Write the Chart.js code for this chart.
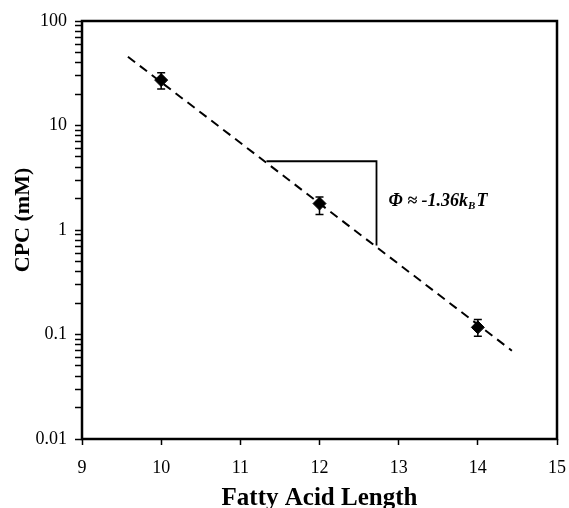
<!DOCTYPE html>
<html>
<head>
<meta charset="utf-8">
<script src="https://cdn.jsdelivr.net/npm/chart.js@4.4.1/dist/chart.umd.min.js"></script>
<style>
  html, body { margin: 0; padding: 0; background: #fff; }
  canvas { display: block; }
</style>
</head>
<body>
<canvas id="chart" width="569" height="508"></canvas>
<script>
// measured points
const chainLength = [10, 12, 14];
const cpc = [27.2, 1.79, 0.117];
const cpcErrUp = [4.7, 0.28, 0.022];
const cpcErrDown = [4.8, 0.38, 0.021];

// dashed fit line
const fitX = [9.58, 14.43];
const fitY = [45.5, 0.070];

// slope triangle
const slopeX = [11.33, 12.72, 12.72];
const slopeY = [4.55, 4.55, 0.71];

const xTicks = [9, 10, 11, 12, 13, 14, 15];
const decades = [0.01, 0.1, 1, 10];
const yMax = 100;

const SERIF = '"Liberation Serif", "Times New Roman", serif';

const yTickValues = [];
decades.forEach(d => {
    for (let k = 1; k <= 9; k++) yTickValues.push(+(d * k).toPrecision(3));
});
yTickValues.push(yMax);

const isDecade = v => Math.abs(Math.log10(v) - Math.round(Math.log10(v))) < 1e-9;

const errorBars = {
    id: 'errorBars',
    afterDatasetsDraw(chart) {
        const {ctx, scales: {x, y}} = chart;
        ctx.save();
        ctx.strokeStyle = '#000';
        ctx.lineWidth = 1.5;
        chainLength.forEach((cl, i) => {
            const px = x.getPixelForValue(cl);
            const top = y.getPixelForValue(cpc[i] + cpcErrUp[i]);
            const bot = y.getPixelForValue(cpc[i] - cpcErrDown[i]);
            ctx.beginPath();
            ctx.moveTo(px, top); ctx.lineTo(px, bot);
            ctx.moveTo(px - 4, top); ctx.lineTo(px + 4, top);
            ctx.moveTo(px - 4, bot); ctx.lineTo(px + 4, bot);
            ctx.stroke();
        });
        ctx.restore();
    }
};

const frame = {
    id: 'frame',
    afterDraw(chart) {
        const {ctx, chartArea: a} = chart;
        ctx.save();
        ctx.strokeStyle = '#000';
        ctx.lineWidth = 2.5;
        ctx.strokeRect(a.left, a.top, a.right - a.left, a.bottom - a.top);
        ctx.restore();
    }
};

// y title sits a little above the plot centre in the original
const yTitle = {
    id: 'yTitle',
    afterDraw(chart) {
        const {ctx, chartArea: a} = chart;
        ctx.save();
        ctx.translate(23, (a.top + a.bottom) / 2 - 10);
        ctx.rotate(-Math.PI / 2);
        ctx.fillStyle = '#000';
        ctx.textAlign = 'center';
        ctx.textBaseline = 'middle';
        ctx.font = 'bold 22px ' + SERIF;
        ctx.fillText('CPC (mM)', 0, 0);
        ctx.restore();
    }
};

const slopeLabel = {
    id: 'slopeLabel',
    afterDraw(chart) {
        const {ctx, scales: {x, y}} = chart;
        const px = x.getPixelForValue(slopeX[1]) + 12;
        const py = (y.getPixelForValue(slopeY[1]) + y.getPixelForValue(slopeY[2])) / 2 + 3;
        ctx.save();
        ctx.fillStyle = '#000';
        ctx.textBaseline = 'alphabetic';
        ctx.textAlign = 'left';
        ctx.font = 'italic bold 18px ' + SERIF;
        const head = '\u03A6 \u2248 -1.36k';
        ctx.fillText(head, px, py);
        let cx = px + ctx.measureText(head).width;
        ctx.font = 'italic bold 11px ' + SERIF;
        ctx.fillText('B', cx, py + 3);
        cx += ctx.measureText('B').width + 1;
        ctx.font = 'italic bold 18px ' + SERIF;
        ctx.fillText('T', cx, py);
        ctx.restore();
    }
};

new Chart(document.getElementById('chart'), {
    type: 'scatter',
    data: {
        datasets: [
            {
                label: 'CPC',
                data: chainLength.map((v, i) => ({x: v, y: cpc[i]})),
                pointStyle: 'rectRot',
                pointRadius: 6.5,
                backgroundColor: '#000',
                borderColor: '#000',
                borderWidth: 1,
                order: 0
            },
            {
                type: 'line',
                label: 'fit',
                data: fitX.map((v, i) => ({x: v, y: fitY[i]})),
                borderColor: '#000',
                borderWidth: 2,
                borderDash: [9, 6],
                pointRadius: 0,
                fill: false,
                order: 2
            },
            {
                type: 'line',
                label: 'slope',
                data: slopeX.map((v, i) => ({x: v, y: slopeY[i]})),
                borderColor: '#000',
                borderWidth: 1.8,
                pointRadius: 0,
                fill: false,
                order: 1
            }
        ]
    },
    options: {
        responsive: false,
        animation: false,
        layout: {padding: {top: 21, right: 12, left: 0, bottom: 0}},
        plugins: {
            legend: {display: false},
            tooltip: {enabled: false}
        },
        scales: {
            x: {
                type: 'linear',
                min: 9,
                max: 15,
                afterFit(scale) {
                    scale.height = 69;
                    scale.paddingLeft = 0;
                    scale.paddingRight = 0;
                },
                afterBuildTicks(scale) { scale.ticks = xTicks.map(v => ({value: v})); },
                border: {display: false},
                grid: {
                    drawOnChartArea: false,
                    drawTicks: true,
                    tickLength: 6,
                    tickColor: '#000',
                    tickWidth: 1.5
                },
                ticks: {
                    color: '#000',
                    padding: 12,
                    font: {family: SERIF, size: 18}
                },
                title: {
                    display: true,
                    text: 'Fatty Acid Length',
                    color: '#000',
                    font: {family: SERIF, size: 25, weight: 'bold', lineHeight: 1},
                    padding: {top: 0, bottom: -3}
                }
            },
            y: {
                type: 'logarithmic',
                min: 0.01,
                max: yMax,
                afterFit(scale) {
                    scale.width = 82;
                    scale.paddingTop = 0;
                    scale.paddingBottom = 0;
                },
                afterBuildTicks(scale) { scale.ticks = yTickValues.map(v => ({value: v})); },
                border: {display: false},
                grid: {
                    drawOnChartArea: false,
                    drawTicks: true,
                    tickLength: 7,
                    tickColor: '#000',
                    tickWidth: 1.5
                },
                ticks: {
                    color: '#000',
                    padding: 8,
                    autoSkip: false,
                    font: {family: SERIF, size: 18},
                    callback: v => isDecade(v) ? String(v) : ''
                }
            }
        }
    },
    plugins: [errorBars, frame, yTitle, slopeLabel]
});
</script>
</body>
</html>
